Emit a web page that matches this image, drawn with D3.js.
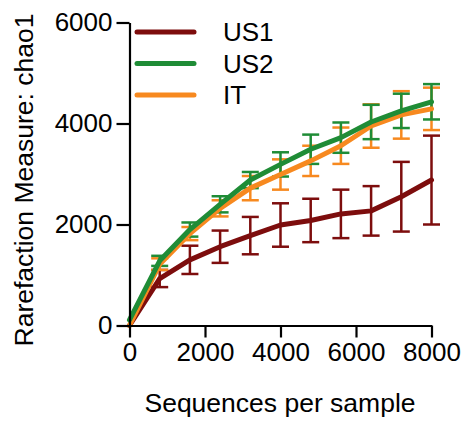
<!DOCTYPE html>
<html>
<head>
<meta charset="utf-8">
<script src="https://cdn.jsdelivr.net/npm/d3@7"></script>
<style>
  body { margin: 0; background: #fff; }
  text { font-family: "Liberation Sans", Arial, sans-serif; }
</style>
</head>
<body>
<div class="canva"></div>
<script>
const depths = [0, 800, 1600, 2400, 3200, 4000, 4800, 5600, 6400, 7200, 8000];
const us1 = [0, 930, 1300, 1560, 1780, 1990, 2080, 2210, 2270, 2550, 2880];
const us1Err = [0, 170, 280, 320, 370, 430, 430, 480, 490, 690, 880];
const us2 = [110, 1280, 1900, 2400, 2880, 3190, 3490, 3720, 4030, 4250, 4430];
const us2Err = [0, 100, 140, 160, 160, 240, 290, 300, 340, 340, 350];
const it = [0, 1215, 1820, 2320, 2720, 2990, 3260, 3560, 3950, 4170, 4290];
const itErr = [0, 115, 130, 160, 240, 300, 300, 360, 430, 470, 420];
const xTicks = [0, 2000, 4000, 6000, 8000];
const yTicks = [0, 2000, 4000, 6000];

const series = [
  {name: "US1", values: us1, err: us1Err, color: "#7d0d0d"},
  {name: "IT", values: it, err: itErr, color: "#f7891f"},
  {name: "US2", values: us2, err: us2Err, color: "#1f8c36"}
];
const legendOrder = ["US1", "US2", "IT"];

const svg = d3.select(".canva").append("svg")
    .attr("width", 469)
    .attr("height", 423);

const x = d3.scaleLinear().domain([0, 8000]).range([129.5, 431.5]);
const y = d3.scaleLinear().domain([0, 6000]).range([325.5, 22.5]);

// error bars
series.forEach(s => {
  const g = svg.append("g")
      .attr("stroke", s.color)
      .attr("stroke-width", 2.5);
  depths.forEach((d, i) => {
    if (s.err[i] === 0) return;
    const hi = y(s.values[i] + s.err[i]), lo = y(s.values[i] - s.err[i]);
    g.append("line").attr("x1", x(d)).attr("x2", x(d)).attr("y1", hi).attr("y2", lo);
    g.append("line").attr("x1", x(d) - 8.5).attr("x2", x(d) + 8.5).attr("y1", hi).attr("y2", hi);
    g.append("line").attr("x1", x(d) - 8.5).attr("x2", x(d) + 8.5).attr("y1", lo).attr("y2", lo);
  });
});

// lines
const line = d3.line()
    .x((v, i) => x(depths[i]))
    .y(v => y(v));

series.forEach(s => {
  svg.append("path")
      .attr("d", line(s.values))
      .attr("fill", "none")
      .attr("stroke", s.color)
      .attr("stroke-width", 5)
      .attr("stroke-linejoin", "round")
      .attr("stroke-linecap", "round");
});

// axes
const xAxis = d3.axisBottom(x).tickValues(xTicks).tickFormat(d3.format("d"))
    .tickSize(12).tickPadding(5).tickSizeOuter(0);
const yAxis = d3.axisLeft(y).tickValues(yTicks).tickFormat(d3.format("d"))
    .tickSize(13).tickPadding(4).tickSizeOuter(0);

const xAxisGroup = svg.append("g").attr("transform", "translate(0, 325.5)").call(xAxis);
const yAxisGroup = svg.append("g").attr("transform", "translate(129.5, 0)").call(yAxis);

[xAxisGroup, yAxisGroup].forEach(g => {
  g.selectAll("path, line").attr("stroke", "#000").attr("stroke-width", 2.2);
  g.selectAll("text").attr("font-size", 26).attr("fill", "#000")
      .style("font-family", "'Liberation Sans', Arial, sans-serif");
});

svg.append("text")
    .attr("x", 280)
    .attr("y", 412)
    .attr("text-anchor", "middle")
    .attr("font-size", 26.5)
    .text("Sequences per sample");

svg.append("text")
    .attr("transform", "translate(33, 180) rotate(-90)")
    .attr("text-anchor", "middle")
    .attr("font-size", 26.5)
    .text("Rarefaction Measure: chao1");

// legend
const legend = svg.append("g");
legendOrder.forEach((name, i) => {
  const s = series.find(d => d.name === name);
  const ly = 32 + i * 31.5;
  legend.append("line")
      .attr("x1", 137).attr("x2", 194)
      .attr("y1", ly).attr("y2", ly)
      .attr("stroke", s.color)
      .attr("stroke-width", 5)
      .attr("stroke-linecap", "round");
  legend.append("text")
      .attr("x", 223)
      .attr("y", ly)
      .attr("dy", "0.36em")
      .attr("font-size", 26)
      .text(name);
});
</script>
</body>
</html>
